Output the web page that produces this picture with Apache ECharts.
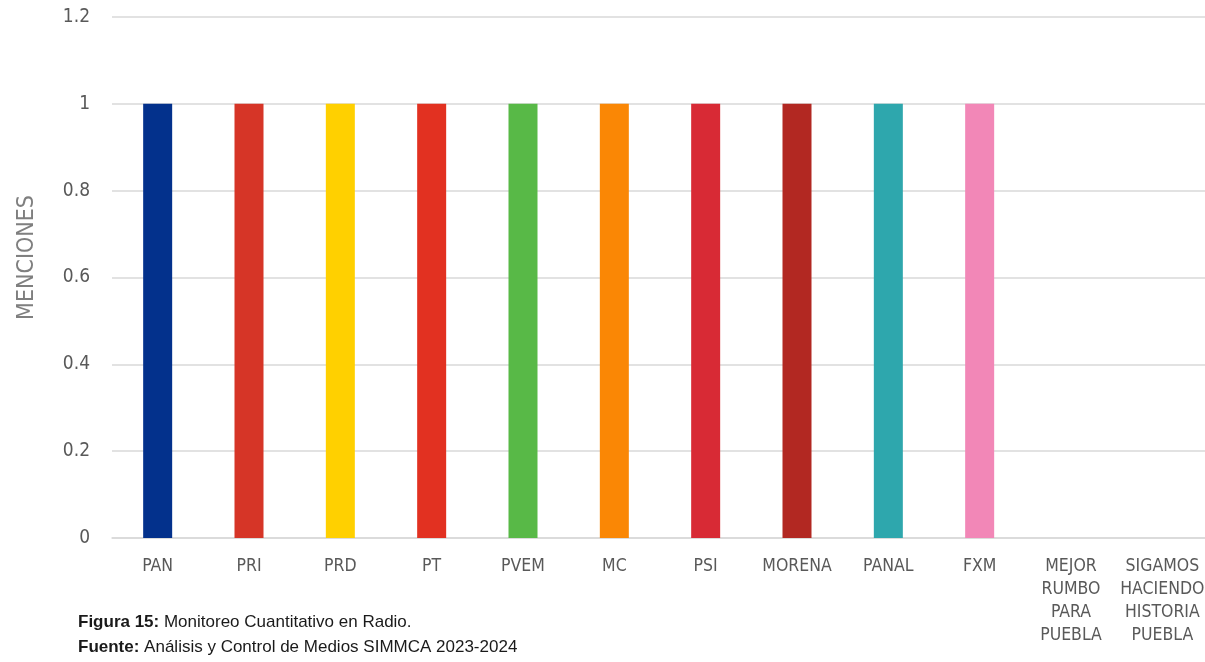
<!DOCTYPE html>
<html><head><meta charset="utf-8">
<script src="https://cdn.jsdelivr.net/npm/echarts@6/dist/echarts.min.js"></script>
<style>html,body{margin:0;padding:0;background:#fff}#c{width:1205px;height:662px}</style>
</head><body><div id="c"></div>
<script>
const categories = ['PAN','PRI','PRD','PT','PVEM','MC','PSI','MORENA','PANAL','FXM','MEJOR\nRUMBO\nPARA\nPUEBLA','SIGAMOS\nHACIENDO\nHISTORIA\nPUEBLA'];
const values = [1,1,1,1,1,1,1,1,1,1,0,0];
const barColors = ['#03318C','#D63527','#FFD000','#E23121','#58B947','#FA8705','#D82A35','#B22822','#2EA7AD','#F287B7','#999999','#999999'];
const yTicks = {min:0, max:1.2, interval:0.2};
const axisName = 'MENCIONES';
const captionLines = [['Figura 15:',' Monitoreo Cuantitativo en Radio.'],['Fuente:',' Análisis y Control de Medios SIMMCA 2023-2024']];

const font = '"Liberation Sans Narrow","DejaVu Sans Condensed","Liberation Sans",sans-serif';
const capFont = '"Liberation Sans",Arial,sans-serif';
const chart = echarts.init(document.getElementById('c'));
chart.setOption({
  animation:false,
  grid:{left:112, width:1096, top:17, bottom:124, containLabel:false, outerBoundsMode:'none'},
  xAxis:{type:'category', data:categories,
    axisLine:{lineStyle:{color:'#d9d9d9', width:1.5}}, axisTick:{show:false},
    axisLabel:{color:'#595959', fontSize:17.5, fontFamily:font, margin:17, lineHeight:23, interval:0}},
  yAxis:{type:'value', min:yTicks.min, max:yTicks.max, interval:yTicks.interval,
    axisLine:{show:false}, axisTick:{show:false},
    splitLine:{lineStyle:{color:'#d9d9d9', width:1.5}},
    axisLabel:{color:'#595959', fontSize:19, fontFamily:font, margin:22,
      formatter:v=>String(Math.round(v*10)/10)}},
  series:[{type:'bar', barWidth:29,
    data:values.map((v,i)=>({value:v, itemStyle:{color:barColors[i]}}))}],
  graphic:[
    {type:'text', left:16, top:195, rotation:Math.PI/2, style:{text:axisName, fill:'#7f7f7f', font:'23px '+font}},
    {type:'text', left:78, top:610, style:{text:'{b|'+captionLines[0][0]+'}'+captionLines[0][1]+'\n{b|'+captionLines[1][0]+'}'+captionLines[1][1],
      fill:'#1a1a1a', font:'17px '+capFont, lineHeight:25,
      rich:{b:{fontWeight:'bold', fontSize:17, fontFamily:capFont, fill:'#1a1a1a'}}}}
  ]
});
</script></body></html>
